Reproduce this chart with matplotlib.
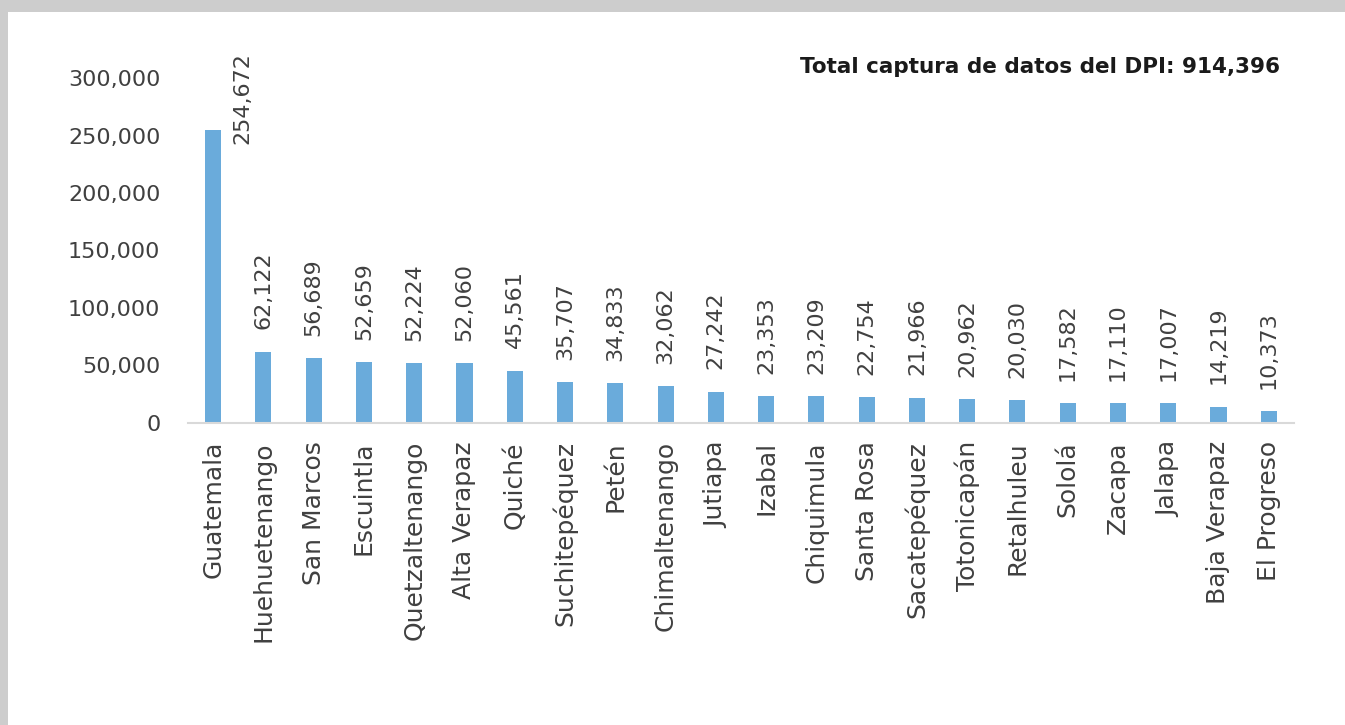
import numpy as np
import matplotlib.pyplot as plt
from matplotlib.patches import Rectangle
from matplotlib.ticker import FuncFormatter

plt.rcParams['font.family'] = ['DejaVu Sans']

# departamentos y capturas de DPI
departamentos = ['Guatemala', 'Huehuetenango', 'San Marcos', 'Escuintla', 'Quetzaltenango',
                 'Alta Verapaz', 'Quiché', 'Suchitepéquez', 'Petén', 'Chimaltenango',
                 'Jutiapa', 'Izabal', 'Chiquimula', 'Santa Rosa', 'Sacatepéquez',
                 'Totonicapán', 'Retalhuleu', 'Sololá', 'Zacapa', 'Jalapa',
                 'Baja Verapaz', 'El Progreso']
capturas = [254672, 62122, 56689, 52659, 52224, 52060, 45561, 35707, 34833, 32062,
            27242, 23353, 23209, 22754, 21966, 20962, 20030, 17582, 17110, 17007,
            14219, 10373]
yticks = [0, 50000, 100000, 150000, 200000, 250000, 300000]
total_txt = 'Total captura de datos del DPI: 914,396'

bar_color = '#6aabdb'
text_color = '#404040'

fig = plt.figure(figsize=(13.45, 7.25), dpi=100, facecolor='#cdcdcd')
# white slide area with gray frame at top and left
fig.patches.append(Rectangle((8 / 1345, 0), 1 - 8 / 1345, 1 - 12 / 725,
                             transform=fig.transFigure, facecolor='white',
                             edgecolor='none', zorder=-10))

ax = fig.add_axes([0.1398, 0.4166, 0.8222, 0.4758])
ax.set_zorder(2)
ax.set_facecolor('none')

x = np.arange(len(departamentos))
ax.bar(x, capturas, width=0.32, color=bar_color, zorder=2)

ax.set_xlim(-0.5, len(departamentos) - 0.5)
ax.set_ylim(0, 300000)
ax.set_yticks(yticks)
ax.yaxis.set_major_formatter(FuncFormatter(lambda v, p: f'{int(v):,}'))
ax.set_xticks(x)
ax.set_xticklabels(departamentos, rotation=90, fontsize=18, color=text_color)
ax.tick_params(axis='y', length=0, pad=20, labelsize=16, labelcolor=text_color)
ax.tick_params(axis='x', length=0, pad=13)

for s in ['top', 'right', 'left']:
    ax.spines[s].set_visible(False)
ax.spines['bottom'].set_color('#d9d9d9')
ax.spines['bottom'].set_linewidth(1.5)

# data labels
for i, v in enumerate(capturas):
    if i == 0:
        # the tallest label sits beside its bar
        ax.annotate(f'{v:,}', (i, v), xytext=(21, -10), textcoords='offset points',
                    rotation=90, ha='center', va='bottom', fontsize=16,
                    color=text_color, annotation_clip=False)
    else:
        ax.annotate(f'{v:,}', (i, v), xytext=(0, 16), textcoords='offset points',
                    rotation=90, ha='center', va='bottom', fontsize=16,
                    color=text_color, annotation_clip=False)

fig.text(1280 / 1345, 1 - 67 / 725, total_txt, ha='right', va='center',
         fontsize=15.5, fontweight='bold', color='#1a1a1a', zorder=3)

fig.savefig('out.png', dpi=100, facecolor=fig.get_facecolor())
